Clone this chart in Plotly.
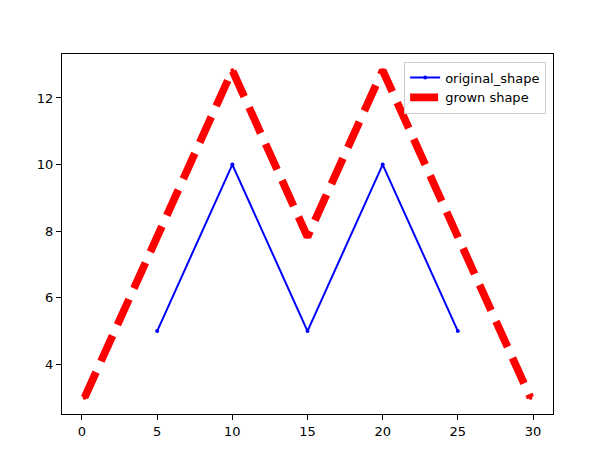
import plotly.graph_objects as go

# original shape
orig_x = [5, 10, 15, 20, 25]
orig_y = [5, 10, 5, 10, 5]

# grown shape (offset outward)
grown_x = [0.17, 10, 15, 20, 29.83]
grown_y = [3.0, 12.83, 7.83, 12.83, 3.0]

x_ticks = [0, 5, 10, 15, 20, 25, 30]
y_ticks = [4, 6, 8, 10, 12]

fig = go.Figure()

fig.add_trace(go.Scatter(
    x=orig_x, y=orig_y,
    mode='lines+markers',
    name='original_shape',
    line=dict(color='#0000ff', width=2),
    marker=dict(color='#0000ff', size=4),
))

fig.add_trace(go.Scatter(
    x=grown_x, y=grown_y,
    mode='lines+markers',
    name='grown shape',
    line=dict(color='#ff0000', width=7.7, dash='28px,12px'),
    marker=dict(color='#ff0000', size=4),
))

axis_style = dict(
    showgrid=False, zeroline=False,
    showline=True, mirror=True, linecolor='black', linewidth=1,
    ticks='outside', ticklen=5, tickwidth=1, tickcolor='black',
    tickfont=dict(family='DejaVu Sans', size=13, color='black'),
)

fig.update_xaxes(range=[-1.33, 31.33], tickvals=x_ticks, **axis_style)
fig.update_yaxes(range=[2.51, 13.32], tickvals=y_ticks, **axis_style)

# page body adds 8px, margins account for it
fig.update_layout(
    width=614, height=460,
    margin=dict(l=54, r=69, t=46, b=54),
    plot_bgcolor='white', paper_bgcolor='white',
    font=dict(family='DejaVu Sans', size=13, color='black'),
    legend=dict(
        x=0.986, y=0.979, xanchor='right', yanchor='top',
        bgcolor='rgba(255,255,255,0.8)', bordercolor='#cccccc', borderwidth=1,
        font=dict(size=13),
        tracegroupgap=0,
    ),
)

fig.write_html("out.html")
